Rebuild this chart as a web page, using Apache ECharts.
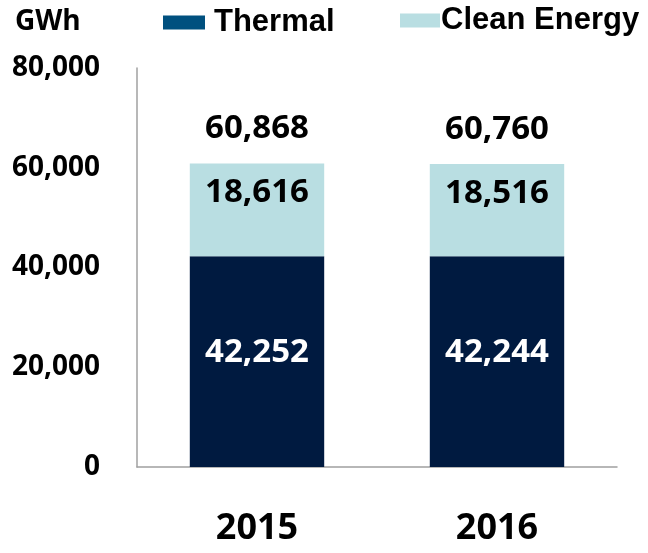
<!DOCTYPE html>
<html>
<head>
<meta charset="utf-8">
<script src="https://cdn.jsdelivr.net/npm/echarts@6/dist/echarts.min.js"></script>
<style>
  html, body { margin: 0; padding: 0; background: #fff; }
  #chart { width: 648px; height: 553px; }
</style>
</head>
<body>
<div id="chart"></div>
<script>
const years = ['2015', '2016'];
const thermal = [42252, 42244];
const clean = [18616, 18516];
const totals = [60868, 60760];
const yTicks = [0, 20000, 40000, 60000, 80000];

const numFont = 'Open Sans';
const fmt = v => v.toLocaleString('en-US');

const chart = echarts.init(document.getElementById('chart'));

const option = {
    animation: false,
    title: {
        text: 'GWh',
        left: 10,
        top: 3,
        textStyle: { fontFamily: numFont, fontWeight: 'bold', fontSize: 28, color: '#000' }
    },
    legend: [
        {
            data: [{ name: 'Thermal', itemStyle: { color: '#00507f' } }],
            icon: 'rect',
            left: 158,
            top: 2,
            itemWidth: 42,
            itemHeight: 14,
            textStyle: { fontFamily: 'Liberation Sans', fontWeight: 'bold', fontSize: 31, color: '#000', padding: [6, 0, 0, 4] }
        },
        {
            data: ['Clean Energy'],
            icon: 'rect',
            left: 395,
            top: 0,
            itemWidth: 40,
            itemHeight: 14,
            itemGap: 0,
            textStyle: { fontFamily: 'Liberation Sans', fontWeight: 'bold', fontSize: 31, color: '#000', padding: [0, 0, 0, -4] }
        }
    ],
    grid: { left: 137, right: 31, top: 68, bottom: 86 },
    xAxis: {
        type: 'category',
        data: years,
        axisLine: { lineStyle: { color: '#a0a0a0', width: 1.5 } },
        axisTick: { show: false },
        axisLabel: { margin: 44, fontFamily: numFont, fontWeight: 'bold', fontSize: 36, color: '#000' }
    },
    yAxis: {
        type: 'value',
        min: yTicks[0],
        max: yTicks[yTicks.length - 1],
        interval: yTicks[1] - yTicks[0],
        splitLine: { show: false },
        axisLine: { show: true, lineStyle: { color: '#a0a0a0', width: 1.5 } },
        axisTick: { show: false },
        axisLabel: { margin: 37, fontFamily: numFont, fontWeight: 'bold', fontSize: 28, color: '#000', formatter: fmt }
    },
    series: [
        {
            name: 'Thermal',
            type: 'bar',
            stack: 'gen',
            data: thermal,
            barWidth: '56%',
            itemStyle: { color: '#001a40' },
            label: {
                show: true, position: 'inside', offset: [0, -9],
                fontFamily: numFont, fontWeight: 'bold', fontSize: 33, color: '#fff',
                formatter: p => fmt(p.value)
            }
        },
        {
            name: 'Clean Energy',
            type: 'bar',
            stack: 'gen',
            data: clean,
            barWidth: '56%',
            itemStyle: { color: '#b9dee2' },
            label: {
                show: true, position: 'insideTop', distance: 13,
                fontFamily: numFont, fontWeight: 'bold', fontSize: 33, color: '#000',
                formatter: p => fmt(p.value)
            }
        },
        {
            name: 'Total',
            type: 'bar',
            data: totals,
            barWidth: '56%',
            barGap: '-100%',
            z: -1,
            itemStyle: { color: 'rgba(0,0,0,0)' },
            silent: true,
            label: {
                show: true, position: 'top', distance: 18,
                fontFamily: numFont, fontWeight: 'bold', fontSize: 33, color: '#000',
                formatter: p => fmt(p.value)
            }
        }
    ]
};

chart.setOption(option);
</script>
</body>
</html>
